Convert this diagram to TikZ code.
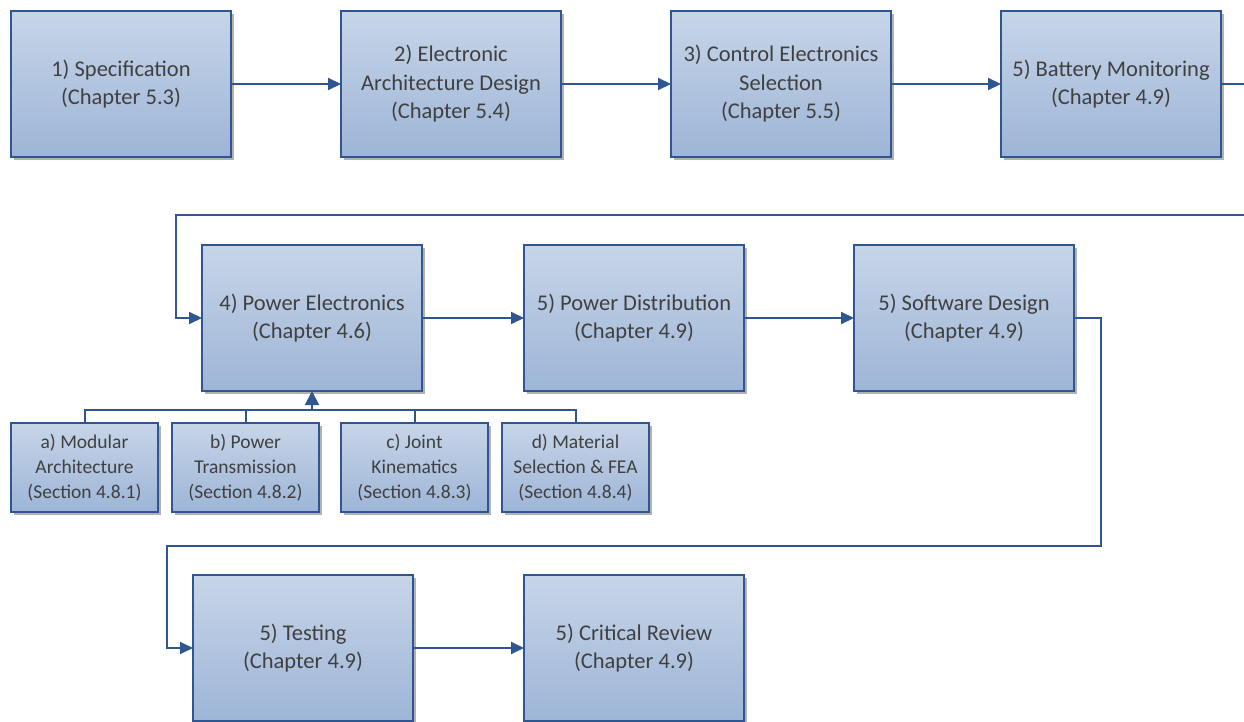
\documentclass[tikz,border=0pt]{standalone}
\usepackage{fontspec}
\setmainfont{Carlito}
\usetikzlibrary{arrows.meta,shadows}
\definecolor{boxtop}{RGB}{199,213,232}
\definecolor{boxbot}{RGB}{157,181,215}
\definecolor{edgeblue}{RGB}{47,86,144}
\definecolor{ink}{RGB}{64,64,64}
\tikzset{
  stage/.style={rectangle, draw=edgeblue, line width=2.4pt,
    top color=boxtop, bottom color=boxbot,
    minimum width=220pt, minimum height=146pt, inner sep=0pt, outer sep=0pt,
    anchor=north west, align=center, text=ink,
    font=\fontsize{22.5}{28.5}\selectfont,
    drop shadow={shadow xshift=3pt, shadow yshift=-3pt, fill=black, opacity=0.3}},
  substage/.style={stage, minimum width=147pt, minimum height=89pt,
    font=\fontsize{19.5}{25}\selectfont},
  link/.style={draw=edgeblue, line width=2pt},
  flow/.style={link, -{Triangle[length=13pt,width=12pt]}},
}
\begin{document}
\begin{tikzpicture}[x=1pt, y=-1pt]
  \useasboundingbox (0,0) rectangle (1244,722);
  \fill[white] (0,0) rectangle (1244,722);

  % first row
  \node[stage] (s1) at (11,11)   {1) Specification\\(Chapter 5.3)};
  \node[stage] (s2) at (341,11)  {2) Electronic\\Architecture Design\\(Chapter 5.4)};
  \node[stage] (s3) at (671,11)  {3) Control Electronics\\Selection\\(Chapter 5.5)};
  \node[stage] (s4) at (1001,11) {5) Battery Monitoring\\(Chapter 4.9)};

  % second row
  \node[stage] (pe) at (202,245) {4) Power Electronics\\(Chapter 4.6)};
  \node[stage] (pd) at (524,245) {5) Power Distribution\\(Chapter 4.9)};
  \node[stage] (sw) at (854,245) {5) Software Design\\(Chapter 4.9)};

  % sub-tasks feeding the power electronics
  \node[substage] (ma) at (11,423)  {a) Modular\\Architecture\\(Section 4.8.1)};
  \node[substage] (pt) at (172,423) {b) Power\\Transmission\\(Section 4.8.2)};
  \node[substage] (jk) at (341,423) {c) Joint\\Kinematics\\(Section 4.8.3)};
  \node[substage] (ms) at (502,423) {d) Material\\Selection \& FEA\\(Section 4.8.4)};

  % third row
  \node[stage] (te) at (193,575) {5) Testing\\(Chapter 4.9)};
  \node[stage] (cr) at (524,575) {5) Critical Review\\(Chapter 4.9)};

  % routing points
  \coordinate (outR)  at (1244,84);
  \coordinate (inR)   at (1244,215);
  \coordinate (inL)   at (176,215);
  \coordinate (downR) at (1101,546);
  \coordinate (downL) at (167,546);
  \coordinate (bus)   at (312,410);

  % first row flow
  \draw[flow] (s1) -- (s2);
  \draw[flow] (s2) -- (s3);
  \draw[flow] (s3) -- (s4);
  \draw[link] (s4.east) -- (outR);
  \draw[flow] (inR) -- (inL) |- (pe.west);

  % second row flow
  \draw[flow] (pe) -- (pd);
  \draw[flow] (pd) -- (sw);
  \draw[flow] (sw.east) -| (downR) -- (downL) |- (te.west);

  % third row flow
  \draw[flow] (te) -- (cr);

  % sub-task bus
  \draw[link] (ma.north) |- (bus) -| (ms.north);
  \draw[link] (pt.north) -- (pt.north |- bus);
  \draw[link] (jk.north) -- (jk.north |- bus);
  \draw[link, -{Triangle[length=14pt,width=14pt]}] (bus) -- (pe.south);
\end{tikzpicture}
\end{document}
